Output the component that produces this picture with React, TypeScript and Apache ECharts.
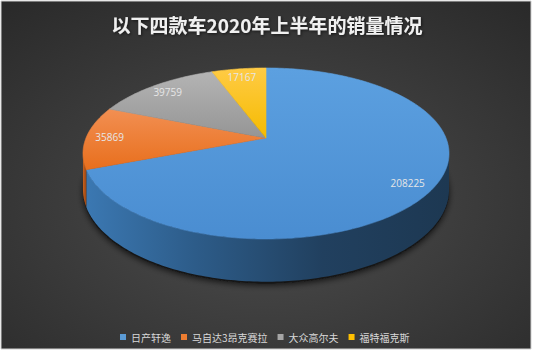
import React, { useEffect, useRef } from "react";
import * as echarts from "echarts";

const titleText = "以下四款车2020年上半年的销量情况";
const categories = ["日产轩逸", "马自达3昂克赛拉", "大众高尔夫", "福特福克斯"];
const values = [208225, 35869, 39759, 17167];
const legendColors = ["#5b9bd5", "#ed7d31", "#a5a5a5", "#ffc000"];
const topColors = [
  ["#5ca0e0", "#4a8dd1"],
  ["#f28f52", "#e86f1d"],
  ["#b4b4b4", "#959595"],
  ["#ffcb45", "#f5bb00"],
];
const sideColors = [
  ["#3b78b2", "#2d5c89", "#21405f", "#1d3852"],
  ["#c9631f", "#b9581a", "#a84e16", "#9a4713"],
  ["#8a8a8a", "#7a7a7a", "#6a6a6a", "#5e5e5e"],
  ["#d9a300", "#c99700", "#b88a00", "#a87e00"],
];

// projection constants
const CX = 266;
const CY = 138;
const B = 180;
const A = 82.7;
const P = 0.181;
const T0 = 35;
const LABEL_F = 0.87;

function proj(theta: number, f: number, depth: number): number[] {
  const u = f * Math.cos(theta);
  const v = f * Math.sin(theta);
  const den = 1 + P * u;
  return [CX + (B * v) / den, CY - (A * u) / den + (depth * T0) / den];
}

function arcPoints(a0: number, a1: number, f: number, depth: number): number[][] {
  const pts: number[][] = [];
  const n = Math.max(2, Math.ceil(((a1 - a0) * 180) / Math.PI));
  for (let k = 0; k <= n; k++) {
    const t = a0 + ((a1 - a0) * k) / n;
    pts.push(proj(t, f, depth));
  }
  return pts;
}

export default function App() {
  const ref = useRef<HTMLDivElement>(null);
  useEffect(() => {
    if (!ref.current) return;
    const chart = echarts.init(ref.current, null, { renderer: "svg" });
    const total = values.reduce((s, v) => s + v, 0);
    const cum: number[] = [0];
    values.forEach((v, i) => cum.push(cum[i] + v));
    const TA = Math.acos(-P);
    const TB = 2 * Math.PI - TA;

    const series = categories.map((name, i) => ({
      type: "custom",
      name,
      coordinateSystem: "none",
      itemStyle: { color: legendColors[i] },
      data: [values[i]],
      renderItem: (params: any, api: any) => {
        const val = api.value(0);
        const s = (cum[i] / total) * 2 * Math.PI;
        const e = s + (val / total) * 2 * Math.PI;
        const children: any[] = [];
        if (i === 0) {
          const bottom = arcPoints(0, 2 * Math.PI, 1, 1);
          children.push({
            type: "polygon",
            shape: { points: bottom.map((p) => [p[0], p[1] + 1.5]) },
            style: {
              fill: "#151515",
              shadowBlur: 6,
              shadowColor: "rgba(0,0,0,0.7)",
              shadowOffsetY: 2,
            },
          });
        }
        const lo = Math.max(s, TA);
        const hi = Math.min(e, TB);
        if (hi > lo) {
          const topRim = arcPoints(lo, hi, 1, 0);
          const botRim = arcPoints(lo, hi, 1, 1).reverse();
          const sc = sideColors[i];
          children.push({
            type: "polygon",
            shape: { points: topRim.concat(botRim) },
            style: {
              fill: {
                type: "linear",
                x: 0,
                y: 0,
                x2: 1,
                y2: 0,
                colorStops: [
                  { offset: 0, color: sc[0] },
                  { offset: 0.3, color: sc[1] },
                  { offset: 0.65, color: sc[2] },
                  { offset: 1, color: sc[3] },
                ],
              },
            },
          });
        }
        const tc = topColors[i];
        const grad = {
          type: "linear",
          x: 0,
          y: 0,
          x2: 0,
          y2: 1,
          colorStops: [
            { offset: 0, color: tc[0] },
            { offset: 1, color: tc[1] },
          ],
        };
        const pts = [proj(0, 0, 0)].concat(arcPoints(s, e, 1, 0));
        children.push({
          type: "polygon",
          shape: { points: pts },
          style: { fill: grad, stroke: grad, lineWidth: 0.6 },
        });
        const mid = (s + e) / 2;
        const lp = proj(mid, LABEL_F, 0);
        children.push({
          type: "text",
          style: {
            text: String(val),
            x: lp[0],
            y: lp[1],
            align: "center",
            verticalAlign: "middle",
            fill: "#e6e6e6",
            fontSize: 10,
            fontFamily: "'Open Sans', 'Noto Sans', sans-serif",
          },
        });
        return { type: "group", children };
      },
    }));

    chart.setOption({
      animation: false,
      backgroundColor: "#ffffff",
      graphic: [
        {
          type: "rect",
          z: -10,
          shape: { x: 1, y: 1, width: 530, height: 348 },
          style: {
            fill: {
              type: "radial",
              x: 0.5,
              y: 0.58,
              r: 0.75,
              colorStops: [
                { offset: 0, color: "#4e4e4e" },
                { offset: 1, color: "#2a2a2a" },
              ],
            },
            stroke: "#d0d0d0",
            lineWidth: 1,
          },
        },
      ],
      title: {
        text: titleText,
        left: "center",
        top: 10,
        textStyle: {
          color: "#f0f0f0",
          fontSize: 19,
          fontWeight: "bold",
          fontFamily: "'Noto Sans CJK SC', sans-serif",
          textShadowColor: "rgba(0,0,0,0.6)",
          textShadowBlur: 3,
          textShadowOffsetX: 1,
          textShadowOffsetY: 1,
        },
      },
      legend: {
        data: categories,
        left: 115,
        top: 327,
        icon: "rect",
        itemWidth: 6,
        itemHeight: 6,
        itemGap: 10,
        textStyle: {
          color: "#d9d9d9",
          fontSize: 10,
          fontFamily: "'Noto Sans CJK SC', sans-serif",
        },
      },
      series,
    });
    return () => chart.dispose();
  }, []);
  return (
    <div
      ref={ref}
      style={{ position: "fixed", left: 0, top: 0, width: 534, height: 352 }}
    />
  );
}
